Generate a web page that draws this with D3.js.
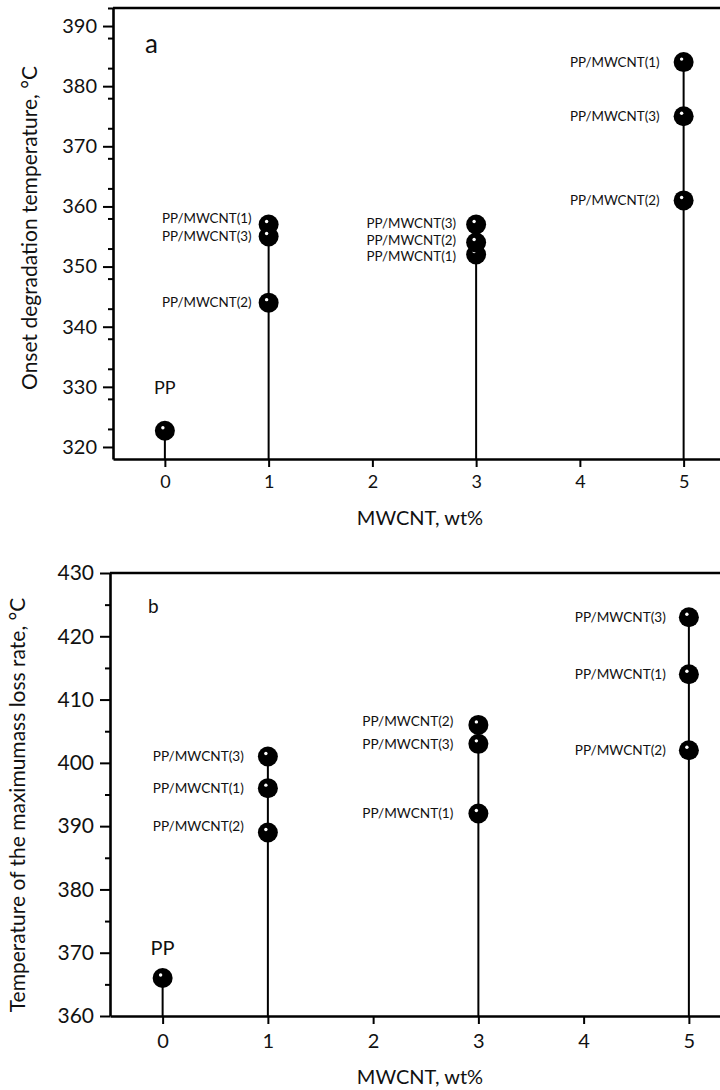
<!DOCTYPE html>
<html>
<head>
<meta charset="utf-8">
<script src="https://cdn.jsdelivr.net/npm/d3@7"></script>
<style>
  html, body { margin: 0; padding: 0; background: #fff; }
  svg { display: block; }
  text { font-family: Lato, "Noto Sans", sans-serif; fill: #111; }
</style>
</head>
<body>
<svg id="chart" width="720" height="1090"></svg>
<script>
// MWCNT loadings (wt%) and x tick labels
const xTicks = [0, 1, 2, 3, 4, 5];
const loadings = [1, 3, 5];
const seriesNames = ["PP/MWCNT(1)", "PP/MWCNT(2)", "PP/MWCNT(3)"];

// (a) onset degradation temperature, °C
const onsetPP = 322.7;
const onsetMWCNT1 = [357, 352, 384];
const onsetMWCNT2 = [344, 354, 361];
const onsetMWCNT3 = [355, 357, 375];
const onsetTicks = [320, 330, 340, 350, 360, 370, 380, 390];

// (b) temperature of the maximum mass loss rate, °C
const maxRatePP = 366;
const maxRateMWCNT1 = [396, 392, 414];
const maxRateMWCNT2 = [389, 406, 402];
const maxRateMWCNT3 = [401, 403, 423];
const maxRateTicks = [360, 370, 380, 390, 400, 410, 420, 430];

const svg = d3.select("#chart");

function drawPanel(cfg) {
  const x = d3.scaleLinear().domain([-0.5, 5.5]).range([cfg.left, cfg.right]);
  const y = d3.scaleLinear().domain(cfg.yDomain).range([cfg.bottom, cfg.top]);
  const g = svg.append("g");

  // minor y ticks
  const minor = d3.range(cfg.yDomain[0], cfg.yDomain[1] + 0.001, 5)
    .filter(v => v % 10 !== 0 && v >= cfg.yTicks[0]);
  g.append("g")
    .attr("transform", `translate(${cfg.left},0)`)
    .call(d3.axisLeft(y).tickValues(minor).tickSize(5).tickFormat(""))
    .call(a => a.select(".domain").remove())
    .call(a => a.selectAll("line").attr("stroke", "#000").attr("stroke-width", 2));

  // major y axis
  g.append("g")
    .attr("transform", `translate(${cfg.left},0)`)
    .call(d3.axisLeft(y).tickValues(cfg.yTicks).tickFormat(d3.format("d"))
      .tickSize(10).tickSizeOuter(0).tickPadding(6))
    .call(a => a.select(".domain").attr("stroke", "#000").attr("stroke-width", 2.6))
    .call(a => a.selectAll("line").attr("stroke", "#000").attr("stroke-width", 2))
    .call(a => a.selectAll("text").attr("font-size", cfg.yTickFont).attr("fill", "#111")
      .style("font-family", "Lato, sans-serif"));

  // x axis
  g.append("g")
    .attr("transform", `translate(0,${cfg.bottom})`)
    .call(d3.axisBottom(x).tickValues(xTicks).tickFormat(d3.format("d"))
      .tickSize(8).tickSizeOuter(0).tickPadding(cfg.xTickPad))
    .call(a => a.select(".domain").attr("stroke", "#000").attr("stroke-width", 2.6))
    .call(a => a.selectAll("line").attr("stroke", "#000").attr("stroke-width", 2))
    .call(a => a.selectAll("text").attr("font-size", cfg.xTickFont).attr("fill", "#111")
      .style("font-family", "Lato, sans-serif"));

  // top and right frame
  g.append("line").attr("x1", cfg.left).attr("x2", cfg.right)
    .attr("y1", cfg.top).attr("y2", cfg.top).attr("stroke", "#000").attr("stroke-width", 2.6);
  g.append("line").attr("x1", cfg.right).attr("x2", cfg.right)
    .attr("y1", cfg.top).attr("y2", cfg.bottom).attr("stroke", "#000").attr("stroke-width", 2.6);

  // points grouped by loading
  const groups = [{ load: 0, pts: [{ name: "PP", v: cfg.pp }] }].concat(
    loadings.map((l, i) => ({
      load: l,
      pts: cfg.series.map((s, k) => ({ name: seriesNames[k], v: s[i] }))
    }))
  );

  // drop lines
  g.selectAll("line.stem").data(groups).enter().append("line")
    .attr("class", "stem")
    .attr("x1", d => x(d.load)).attr("x2", d => x(d.load))
    .attr("y1", y(cfg.yDomain[0]))
    .attr("y2", d => y(d3.max(d.pts, p => p.v)))
    .attr("stroke", "#000").attr("stroke-width", 2);

  const all = groups.flatMap((gr, gi) => gr.pts.map(p => Object.assign({ load: gr.load, gi }, p)));

  const balls = g.selectAll("g.ball").data(all).enter().append("g")
    .attr("class", "ball")
    .attr("transform", d => `translate(${x(d.load)},${y(d.v)})`);
  balls.append("circle").attr("r", 10).attr("fill", "#000");
  balls.append("circle").attr("r", 1.7).attr("cx", -2).attr("cy", -3).attr("fill", "#fff");

  // sample labels
  all.filter(d => d.load !== 0).forEach(d => {
    const nudge = (cfg.nudge[d.load] && cfg.nudge[d.load][d.name]) || 0;
    g.append("text")
      .attr("x", x(d.load) - cfg.labelGap[d.gi - 1])
      .attr("y", y(d.v) + nudge)
      .attr("dy", "0.35em")
      .attr("text-anchor", "end")
      .attr("font-size", cfg.labelFont)
      .text(d.name);
  });
  // PP label above the neat polymer
  g.append("text")
    .attr("x", x(0)).attr("y", y(cfg.pp) - cfg.ppLift)
    .attr("text-anchor", "middle").attr("font-size", cfg.ppFont).text("PP");

  // panel letter
  g.append("text").attr("x", cfg.letter[0]).attr("y", cfg.letter[1])
    .attr("font-size", cfg.letterFont).text(cfg.letterText);

  // axis titles
  g.append("text").attr("x", cfg.xTitle[0]).attr("y", cfg.xTitle[1])
    .attr("text-anchor", "middle").attr("font-size", cfg.xTitleFont).text("MWCNT, wt%");
  g.append("text")
    .attr("transform", `translate(${cfg.yTitle[0]},${cfg.yTitle[1]}) rotate(-90)`)
    .attr("text-anchor", "middle").attr("font-size", cfg.yTitleFont).text(cfg.yTitleText);
}

drawPanel({
  left: 113, right: 735.5, top: 8, bottom: 459,
  yDomain: [318, 393], yTicks: onsetTicks,
  pp: onsetPP, series: [onsetMWCNT1, onsetMWCNT2, onsetMWCNT3],
  yTickFont: 20, xTickFont: 18, xTickPad: 8,
  labelFont: 13.4, labelGap: [17, 20, 24],
  nudge: { 1: { "PP/MWCNT(1)": -6 },
           3: { "PP/MWCNT(3)": -0.8, "PP/MWCNT(2)": -2.7, "PP/MWCNT(1)": 1.5 } },
  ppFont: 18, ppLift: 36.5,
  letter: [145, 53], letterFont: 26, letterText: "a",
  xTitle: [420, 525], xTitleFont: 20,
  yTitle: [37, 228], yTitleFont: 21, yTitleText: "Onset degradation temperature, °C"
});

drawPanel({
  left: 110, right: 741.5, top: 573, bottom: 1016,
  yDomain: [360, 430], yTicks: maxRateTicks,
  pp: maxRatePP, series: [maxRateMWCNT1, maxRateMWCNT2, maxRateMWCNT3],
  yTickFont: 21, xTickFont: 20, xTickPad: 10,
  labelFont: 13.6, labelGap: [24, 25, 23],
  nudge: { 1: { "PP/MWCNT(2)": -6 }, 3: { "PP/MWCNT(2)": -4 } },
  ppFont: 20, ppLift: 23,
  letter: [148, 613], letterFont: 19, letterText: "b",
  xTitle: [420, 1084], xTitleFont: 20,
  yTitle: [25, 805], yTitleFont: 21, yTitleText: "Temperature of the maximumass loss rate, °C"
});
</script>
</body>
</html>
